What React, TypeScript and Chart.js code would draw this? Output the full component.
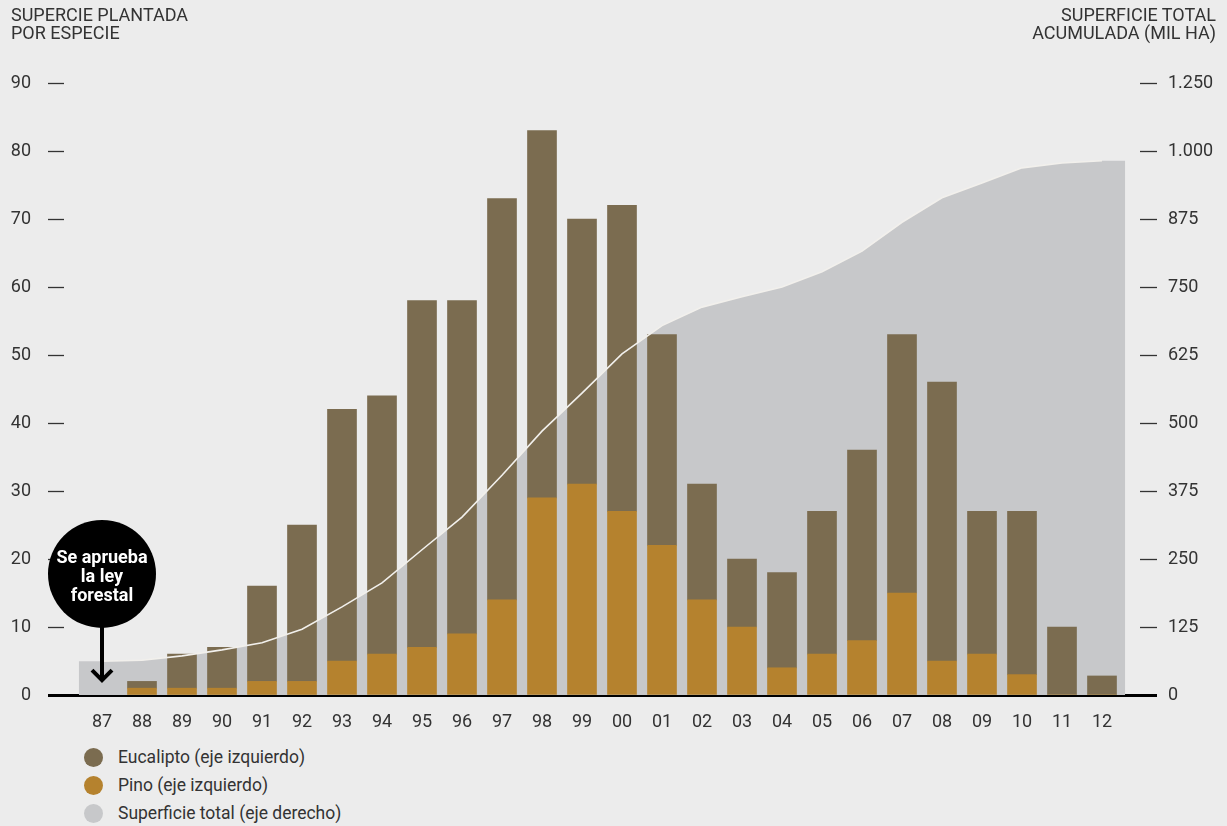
import { useEffect, useRef } from 'react';
import { Chart, registerables } from 'chart.js';

Chart.register(...registerables);

// Plantation year (two-digit labels shown under the bars)
const years = ['87', '88', '89', '90', '91', '92', '93', '94', '95', '96', '97', '98', '99', '00', '01', '02', '03', '04', '05', '06', '07', '08', '09', '10', '11', '12'];

// Yearly planted area by species (left axis)
const eucalipto = [null, 1, 5, 6, 14, 23, 37, 38, 51, 49, 59, 54, 39, 45, 31, 17, 10, 14, 21, 28, 38, 41, 21, 24, 10, 2.8];
const pino = [null, 1, 1, 1, 2, 2, 5, 6, 7, 9, 14, 29, 31, 27, 22, 14, 10, 4, 6, 8, 15, 5, 6, 3, 0, 0];

// Accumulated total area, thousand ha (right axis)
const superficieTotal = [62, 64, 72, 83, 96, 121, 162, 206, 267, 327, 404, 485, 555, 627, 679, 713, 732, 750, 778, 816, 869, 914, 941, 969, 978, 982];

// Right axis tick captions, bottom to top
const rightTickLabels = ['0', '125', '250', '375', '500', '625', '750', '875', '1.000', '1.250'];

const legendItems = [
  { label: 'Eucalipto (eje izquierdo)', color: '#7b6c50' },
  { label: 'Pino (eje izquierdo)', color: '#b5822e' },
  { label: 'Superficie total (eje derecho)', color: '#c7c8ca' },
];

const COLORS = {
  bg: '#ececec',
  text: '#333333',
  eucalipto: '#7b6c50',
  pino: '#b5822e',
  area: '#c7c8ca',
  line: '#f2f0ec',
};

const FONT = 'Roboto, "Liberation Sans", Arial, sans-serif';

// Callout marking the forestry law
const lawNote = {
  index: 0,
  centerValue: 17.8,
  tipValue: 1.9,
  radius: 54,
  lines: ['Se aprueba', 'la ley', 'forestal'],
};

const notePlugin = {
  id: 'lawNote',
  afterDatasetsDraw(chart: any) {
    const { ctx, scales } = chart;
    const x = scales.x;
    const y = scales.y;
    const cx = x.getPixelForValue(lawNote.index);
    const cy = y.getPixelForValue(lawNote.centerValue);
    const tipY = y.getPixelForValue(lawNote.tipValue);
    ctx.save();
    ctx.strokeStyle = '#000';
    ctx.fillStyle = '#000';
    ctx.lineWidth = 4;
    ctx.lineCap = 'butt';
    ctx.beginPath();
    ctx.moveTo(cx, cy);
    ctx.lineTo(cx, tipY - 2);
    ctx.stroke();
    ctx.lineJoin = 'miter';
    ctx.beginPath();
    ctx.moveTo(cx - 10, tipY - 12);
    ctx.lineTo(cx, tipY - 2);
    ctx.lineTo(cx + 10, tipY - 12);
    ctx.stroke();
    ctx.beginPath();
    ctx.arc(cx, cy, lawNote.radius, 0, Math.PI * 2);
    ctx.fill();
    ctx.fillStyle = '#fff';
    ctx.font = `bold 18px ${FONT}`;
    ctx.textAlign = 'center';
    ctx.textBaseline = 'middle';
    lawNote.lines.forEach((t, i) => {
      ctx.fillText(t, cx, cy + (i - 1) * 19 + 4);
    });
    ctx.restore();
  },
};

const AREA_OVERHANG = 0.58;
const X_MIN = -0.95;
const X_MAX = years.length - 1 + 0.95;

export default function App() {
  const canvasRef = useRef<HTMLCanvasElement | null>(null);

  useEffect(() => {
    const canvas = canvasRef.current;
    if (!canvas) return;

    const last = years.length - 1;
    const areaPoints = [
      { x: -AREA_OVERHANG, y: superficieTotal[0] },
      ...superficieTotal.map((v, i) => ({ x: i, y: v })),
      { x: last + AREA_OVERHANG, y: superficieTotal[last] },
    ];
    const linePoints = superficieTotal.map((v, i) => ({ x: i, y: v }));

    const chart = new Chart(canvas, {
      type: 'bar',
      data: {
        datasets: [
          {
            type: 'line',
            label: 'Superficie total (línea)',
            data: linePoints,
            yAxisID: 'y2',
            borderColor: COLORS.line,
            borderWidth: 1.6,
            pointRadius: 0,
            tension: 0,
            fill: false,
            order: 0,
          },
          {
            type: 'bar',
            label: 'Pino',
            data: pino.map((v, i) => ({ x: i, y: v })),
            yAxisID: 'y',
            backgroundColor: COLORS.pino,
            borderWidth: 0,
            barThickness: 29,
            order: 1,
          },
          {
            type: 'bar',
            label: 'Eucalipto',
            data: eucalipto.map((v, i) => ({ x: i, y: v })),
            yAxisID: 'y',
            backgroundColor: COLORS.eucalipto,
            borderWidth: 0,
            barThickness: 29,
            order: 1,
          },
          {
            type: 'line',
            label: 'Superficie total',
            data: areaPoints,
            yAxisID: 'y2',
            backgroundColor: COLORS.area,
            borderWidth: 0,
            borderColor: COLORS.area,
            pointRadius: 0,
            tension: 0,
            fill: 'origin',
            order: 2,
          },
        ] as any,
      },
      options: {
        animation: false,
        responsive: false,
        devicePixelRatio: 1,
        layout: { padding: { top: 83, left: 0, right: 0, bottom: 0 } },
        plugins: {
          legend: { display: false },
          tooltip: { enabled: false },
        },
        scales: {
          x: {
            type: 'linear',
            bounds: 'data',
            offset: false,
            min: X_MIN,
            max: X_MAX,
            stacked: true,
            z: 1,
            grid: { display: false, drawTicks: false, offset: false },
            border: { display: true, color: '#000', width: 3 },
            afterBuildTicks: (scale: any) => {
              scale.ticks = years.map((_, i) => ({ value: i }));
              scale.min = X_MIN;
              scale.max = X_MAX;
            },
            afterFit: (scale: any) => {
              scale.height = 45;
              scale.paddingLeft = 0;
              scale.paddingRight = 0;
            },
            ticks: {
              autoSkip: false,
              maxRotation: 0,
              padding: 17,
              color: COLORS.text,
              font: { family: FONT, size: 18 },
              callback: (value: any) => years[Math.round(Number(value))] ?? '',
            },
          },
          y: {
            type: 'linear',
            position: 'left',
            min: 0,
            max: 90,
            stacked: true,
            z: 1,
            afterFit: (scale: any) => {
              scale.width = 64;
            },
            grid: {
              drawOnChartArea: false,
              drawTicks: true,
              tickLength: 16,
              tickColor: (ctx: any) => (ctx.tick && ctx.tick.value === 0 ? '#000' : '#333'),
              tickWidth: (ctx: any) => (ctx.tick && ctx.tick.value === 0 ? 3 : 1.3),
            },
            border: { display: false },
            ticks: {
              stepSize: 10,
              padding: 17,
              color: COLORS.text,
              font: { family: FONT, size: 18 },
            },
          },
          y2: {
            type: 'linear',
            position: 'right',
            min: 0,
            max: 1125,
            z: 1,
            afterFit: (scale: any) => {
              scale.width = 87;
            },
            grid: {
              drawOnChartArea: false,
              drawTicks: true,
              tickLength: 17,
              tickColor: (ctx: any) => (ctx.tick && ctx.tick.value === 0 ? '#000' : '#333'),
              tickWidth: (ctx: any) => (ctx.tick && ctx.tick.value === 0 ? 3 : 1.3),
            },
            border: { display: false },
            ticks: {
              stepSize: 125,
              padding: 11,
              color: COLORS.text,
              font: { family: FONT, size: 18 },
              callback: (_value: any, index: number) => rightTickLabels[index] ?? '',
            },
          },
        },
      } as any,
      plugins: [notePlugin],
    });

    return () => chart.destroy();
  }, []);

  return (
    <div
      style={{
        position: 'absolute',
        left: 0,
        top: 0,
        width: 1227,
        height: 826,
        background: COLORS.bg,
        fontFamily: FONT,
        color: COLORS.text,
        overflow: 'hidden',
      }}
    >
      <canvas
        ref={canvasRef}
        width={1227}
        height={740}
        style={{ position: 'absolute', left: 0, top: 0, width: 1227, height: 740 }}
      />
      <div style={{ position: 'absolute', left: 11, top: 6, fontSize: 18, lineHeight: '18px' }}>
        SUPERCIE PLANTADA
        <br />
        POR ESPECIE
      </div>
      <div
        style={{
          position: 'absolute',
          right: 11,
          top: 6,
          fontSize: 18,
          lineHeight: '18px',
          textAlign: 'right',
        }}
      >
        SUPERFICIE TOTAL
        <br />
        ACUMULADA (MIL HA)
      </div>
      <div style={{ position: 'absolute', left: 84, top: 743 }}>
        {legendItems.map((item) => (
          <div key={item.label} style={{ display: 'flex', alignItems: 'center', height: 28 }}>
            <span
              style={{
                display: 'inline-block',
                width: 19,
                height: 19,
                borderRadius: '50%',
                background: item.color,
                marginRight: 15,
              }}
            />
            <span style={{ fontSize: 17.5 }}>{item.label}</span>
          </div>
        ))}
      </div>
    </div>
  );
}
